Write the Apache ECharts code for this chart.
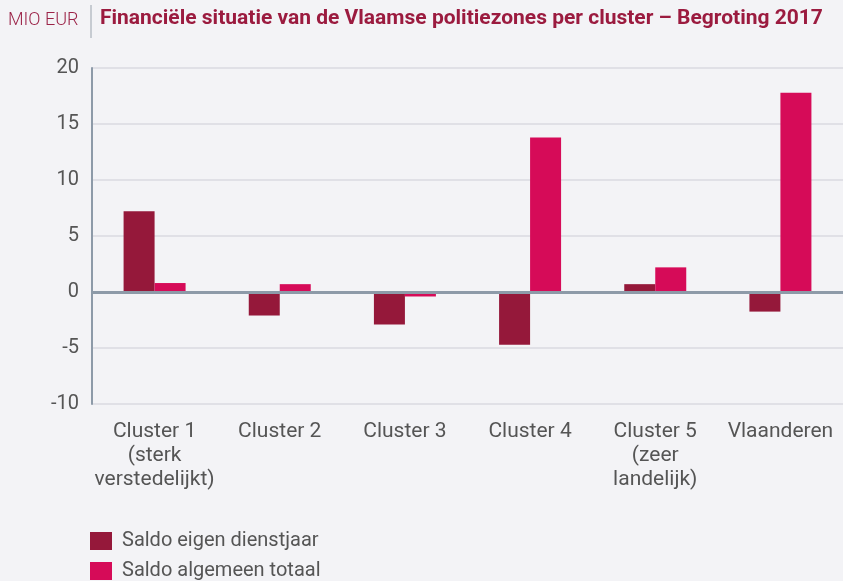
<!DOCTYPE html>
<html>
<head>
<meta charset="utf-8">
<script src="https://cdn.jsdelivr.net/npm/echarts@6/dist/echarts.min.js"></script>
<style>
  html, body { margin: 0; padding: 0; background: #f3f3f6; }
  #chart { width: 843px; height: 581px; }
</style>
</head>
<body>
<div id="chart"></div>
<script>
// categorieën en waarden (MIO EUR)
const categories = ['Cluster 1\n(sterk\nverstedelijkt)', 'Cluster 2', 'Cluster 3', 'Cluster 4', 'Cluster 5\n(zeer\nlandelijk)', 'Vlaanderen'];
const saldoEigen = [7.2, -2.1, -2.9, -4.7, 0.7, -1.75];
const saldoTotaal = [0.8, 0.7, -0.4, 13.8, 2.2, 17.8];
const yTicks = [-10, -5, 0, 5, 10, 15, 20];

const darkRed = '#95183a';
const pink = '#d60b58';
const axisGrey = '#8d9aa8';
const font = 'Roboto, "Noto Sans", sans-serif';

let chart = echarts.init(document.getElementById('chart'));
chart.setOption({
    backgroundColor: '#f3f3f6',
    animation: false,
    textStyle: {fontFamily: font},
    graphic: [
        {type: 'text', left: 8, top: 11, style: {text: 'MIO EUR', fill: '#9b2348', font: '300 18px ' + font}},
        {type: 'line', shape: {x1: 91, y1: 5, x2: 91, y2: 38}, style: {stroke: '#9aa3ad', lineWidth: 1}},
        {type: 'text', left: 100, top: 8, style: {text: 'Financiële situatie van de Vlaamse politiezones per cluster – Begroting 2017', fill: '#9b1b3f', font: 'bold 21px "Liberation Sans Narrow", ' + font}}
    ],
    legend: {
        orient: 'vertical',
        left: 90,
        top: 531,
        padding: 0,
        itemWidth: 22,
        itemHeight: 18,
        itemGap: 10,
        icon: 'rect',
        textStyle: {fontSize: 20, color: '#555', fontFamily: font, padding: [0, 0, 0, 5]},
        data: ['Saldo eigen dienstjaar', 'Saldo algemeen totaal']
    },
    grid: {left: 92, right: 843 - 92 - 126 * 6, top: 68, bottom: 581 - 404},
    xAxis: {
        type: 'category',
        data: categories,
        position: 'bottom',
        axisLine: {onZero: false, show: false},
        axisTick: {show: false},
        axisLabel: {fontSize: 21, color: '#555', lineHeight: 24, margin: 16, interval: 0}
    },
    yAxis: {
        type: 'value',
        min: -10,
        max: 20,
        interval: 5,
        axisLine: {show: true, lineStyle: {color: axisGrey, width: 2}},
        axisTick: {show: false},
        axisLabel: {fontSize: 20, color: '#555', margin: 13,
            formatter: v => yTicks.includes(v) ? String(v) : ''},
        splitLine: {lineStyle: {color: '#dadae0', width: 1.5}}
    },
    series: [
        {
            name: 'Saldo eigen dienstjaar',
            type: 'bar',
            barWidth: 31,
            barGap: '0%',
            itemStyle: {color: darkRed},
            data: saldoEigen,
            markLine: {
                silent: true,
                symbol: 'none',
                label: {show: false},
                lineStyle: {color: axisGrey, width: 3, type: 'solid'},
                data: [{yAxis: 0}]
            }
        },
        {
            name: 'Saldo algemeen totaal',
            type: 'bar',
            barWidth: 31,
            itemStyle: {color: pink},
            data: saldoTotaal
        }
    ]
});
</script>
</body>
</html>
